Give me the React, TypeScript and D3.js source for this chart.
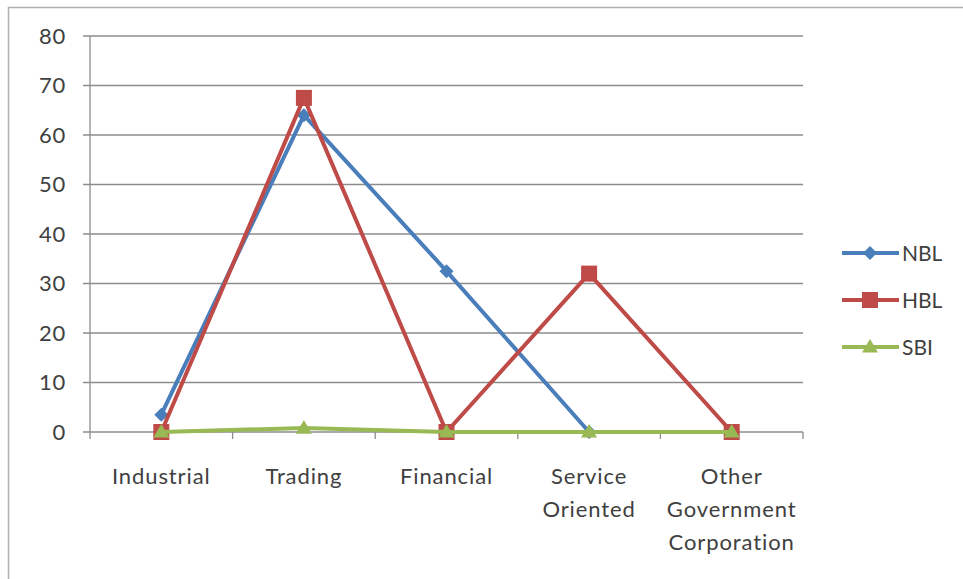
import React from "react";
import * as d3 from "d3";

const categories: string[][] = [
  ["Industrial"],
  ["Trading"],
  ["Financial"],
  ["Service", "Oriented"],
  ["Other", "Government", "Corporation"],
];
const nbl = [3.5, 64, 32.5, 0, 0];
const hbl = [0, 67.5, 0, 32, 0];
const sbi = [0, 0.8, 0, 0, 0];
const yTicks = [0, 10, 20, 30, 40, 50, 60, 70, 80];

const series = [
  { name: "NBL", values: nbl, color: "#4A7EBB", marker: "diamond" },
  { name: "HBL", values: hbl, color: "#BE4B48", marker: "square" },
  { name: "SBI", values: sbi, color: "#98B954", marker: "triangle" },
];

const W = 963;
const H = 579;
const left = 90;
const right = 803;
const top = 36;
const bottom = 432;
const font = "Lato, 'Open Sans', sans-serif";

function Marker({ type, x, y, color }: { type: string; x: number; y: number; color: string }) {
  if (type === "square") {
    return <rect x={x - 8} y={y - 8} width={16} height={16} fill={color} />;
  }
  if (type === "diamond") {
    const s = 7;
    return <path d={`M${x},${y - s}L${x + s},${y}L${x},${y + s}L${x - s},${y}Z`} fill={color} />;
  }
  const s = 8;
  return <path d={`M${x},${y - s}L${x + s},${y + s * 0.7}L${x - s},${y + s * 0.7}Z`} fill={color} />;
}

export default function App() {
  const x = d3
    .scaleBand<number>()
    .domain(categories.map((_, i) => i))
    .range([left, right]);
  const y = d3.scaleLinear().domain([0, 80]).range([bottom, top]);
  const cx = (i: number) => (x(i) as number) + x.bandwidth() / 2;
  const line = d3
    .line<number>()
    .x((_, i) => cx(i))
    .y((d) => y(d));

  const boundaries = d3.range(categories.length + 1).map((i) => left + i * x.bandwidth());

  return (
    <svg
      width={W}
      height={H}
      style={{ position: "absolute", left: 0, top: 0, background: "#fff" }}
      fontFamily={font}
    >
      <rect x={8.5} y={7.5} width={W + 10} height={H + 10} fill="#fff" stroke="#b0b0b0" strokeWidth={1.5} />
      {yTicks.map((t) => (
        <g key={t}>
          <line x1={83} x2={right} y1={y(t)} y2={y(t)} stroke="#8c8c8c" strokeWidth={1.3} />
          <text x={66} y={y(t)} dy="0.36em" textAnchor="end" fontSize={22} letterSpacing={0.8} fill="#404040">
            {t}
          </text>
        </g>
      ))}
      <line x1={left} x2={left} y1={top} y2={bottom} stroke="#8c8c8c" strokeWidth={1.3} />
      {boundaries.map((b, i) => (
        <line key={i} x1={b} x2={b} y1={bottom} y2={bottom + 7} stroke="#8c8c8c" strokeWidth={1.3} />
      ))}
      {categories.map((lines, i) => (
        <text key={i} textAnchor="middle" fontSize={22} letterSpacing={0.9} fill="#404040">
          {lines.map((l, j) => (
            <tspan key={j} x={cx(i)} y={484 + j * 33}>
              {l}
            </tspan>
          ))}
        </text>
      ))}
      {series.map((s) => (
        <g key={s.name}>
          <path d={line(s.values) || ""} fill="none" stroke={s.color} strokeWidth={4} strokeLinejoin="round" />
          {s.values.map((v, i) => (
            <Marker key={i} type={s.marker} x={cx(i)} y={y(v)} color={s.color} />
          ))}
        </g>
      ))}
      {series.map((s, i) => {
        const ly = 253 + i * 47;
        return (
          <g key={s.name}>
            <line x1={842} x2={899} y1={ly} y2={ly} stroke={s.color} strokeWidth={4} />
            <Marker type={s.marker} x={870} y={ly} color={s.color} />
            <text x={902} y={ly} dy="0.36em" fontSize={21} fill="#404040">
              {s.name}
            </text>
          </g>
        );
      })}
    </svg>
  );
}
